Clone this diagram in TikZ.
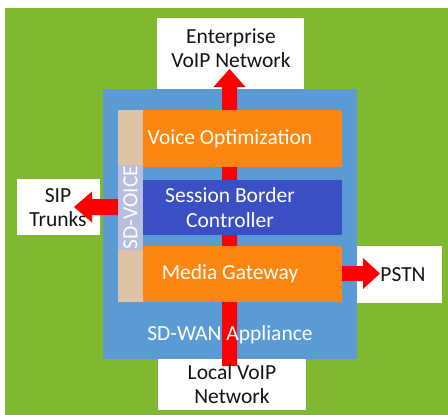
\documentclass[tikz,border=0pt]{standalone}
\usepackage{fontspec}
\setmainfont{Carlito}
\usetikzlibrary{calc}
\definecolor{bggreen}{RGB}{128,185,48}
\definecolor{appblue}{RGB}{91,155,213}
\definecolor{vorange}{RGB}{253,134,16}
\definecolor{sbcblue}{RGB}{59,79,196}
\definecolor{tanstrip}{RGB}{223,195,166}
\definecolor{lav}{RGB}{186,190,222}
\definecolor{ared}{RGB}{255,0,0}
\definecolor{txtdark}{RGB}{20,20,20}
\begin{document}
\begin{tikzpicture}[x=1pt,y=-1pt,
  box/.style={draw=none, inner sep=0pt, outer sep=0pt, anchor=north west},
  lbl/.style={align=center, inner sep=0pt, font=\fontsize{21.5}{24.5}\selectfont},
  darklbl/.style={lbl, text=txtdark},
  lightlbl/.style={lbl, text=white},
  blockarrow/.style={fill=ared, draw=none}]
\useasboundingbox (0,0) rectangle (448,415);
\fill[white] (0,0) rectangle (448,415);
\node[box, fill=bggreen, minimum width=443pt, minimum height=407pt] (bg) at (5,8) {};
% outside white boxes
\node[box, fill=white, minimum width=147pt, minimum height=71pt] (ent) at (157,18) {};
\node[box, fill=white, minimum width=83pt, minimum height=56pt] (sip) at (17,179) {};
\node[box, fill=white, minimum width=86pt, minimum height=57pt] (pstn) at (356,246) {};
\node[box, fill=white, minimum width=148pt, minimum height=52pt] (local) at (158,358) {};
% appliance
\node[box, fill=appblue, minimum width=254pt, minimum height=270pt] (app) at (103,89) {};
% arrow end points
\coordinate (vbot) at (229.5,366);
\coordinate (vtop) at (229.5,69);
\coordinate (sipstart) at (122,207);
\coordinate (siptip) at (74,207);
\coordinate (pststart) at (340,273.5);
\coordinate (psttip) at (380,273.5);
% vertical block arrow (up)
\path[blockarrow] ($(vbot)+(-7.5,0)$) -- ($(vtop)+(-7.5,18)$) -- ($(vtop)+(-16,18)$)
  -- (vtop) -- ($(vtop)+(16,18)$) -- ($(vtop)+(7.5,18)$) -- ($(vbot)+(7.5,0)$) -- cycle;
% SIP block arrow (left)
\path[blockarrow] ($(sipstart)+(0,-8)$) -- ($(siptip)+(18,-8)$) -- ($(siptip)+(18,-15.5)$)
  -- (siptip) -- ($(siptip)+(18,15.5)$) -- ($(siptip)+(18,8)$) -- ($(sipstart)+(0,8)$) -- cycle;
% PSTN block arrow (right)
\path[blockarrow] ($(pststart)+(0,-7.5)$) -- ($(psttip)+(-17,-7.5)$) -- ($(psttip)+(-17,-15.5)$)
  -- (psttip) -- ($(psttip)+(-17,15.5)$) -- ($(psttip)+(-17,7.5)$) -- ($(pststart)+(0,7.5)$) -- cycle;
% SD-VOICE strip
\node[box, fill=tanstrip, minimum width=25pt, minimum height=192pt] (strip) at (118,110) {};
\node[lightlbl, rotate=90, fill=lav, minimum height=25pt, inner xsep=1pt] (sdvoice) at (130.5,207.5) {SD-VOICE};
% blocks
\node[box, fill=vorange, minimum width=199pt, minimum height=57pt] (vo) at (143,110) {};
\node[box, fill=sbcblue, minimum width=199pt, minimum height=55pt] (sbc) at (143,180) {};
\node[box, fill=vorange, minimum width=199pt, minimum height=56pt] (mg) at (143,246) {};
% texts
\node[lightlbl] (votxt) at (230,139) {Voice Optimization};
\node[lightlbl] (sbctxt) at (230,207.5) {Session Border\\Controller};
\node[lightlbl] (mgtxt) at (230,274) {Media Gateway};
\node[lightlbl] (apptxt) at (230,335) {SD-WAN Appliance};
\node[darklbl] (enttxt) at (231,48) {Enterprise\\VoIP Network};
\node[darklbl] (siptxt) at (58,207.5) {SIP\\Trunks};
\node[darklbl] (psttxt) at (403,275) {PSTN};
\node[darklbl] (localtxt) at (232,384) {Local VoIP\\Network};
\end{tikzpicture}
\end{document}
